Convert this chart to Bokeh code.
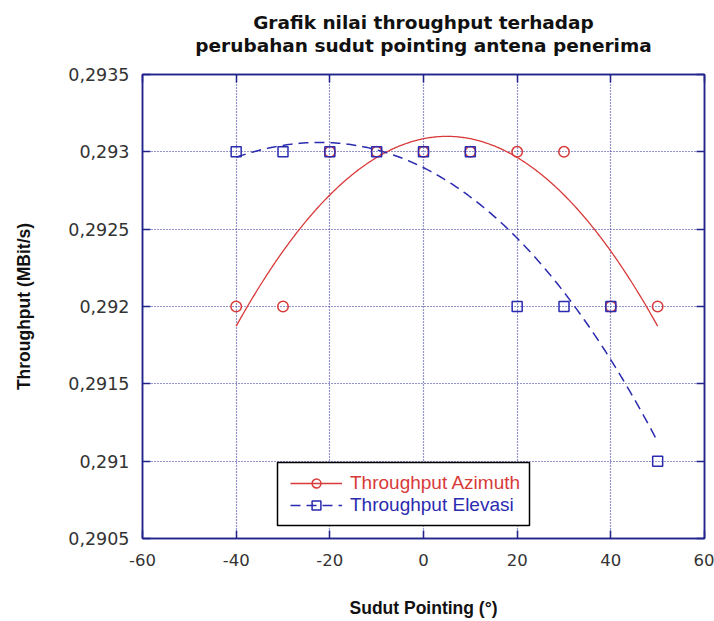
import numpy as np
from bokeh.plotting import figure
from bokeh.models import (FixedTicker, LinearAxis, Legend, LegendItem,
                          BoxAnnotation, Range1d, Title)
from bokeh.embed import file_html
from bokeh.resources import INLINE

# ---------------- data ----------------
sudut = [-40, -30, -20, -10, 0, 10, 20, 30, 40, 50]
azimuth = [0.292, 0.292, 0.293, 0.293, 0.293, 0.293, 0.293, 0.293, 0.292, 0.292]
elevasi = [0.293, 0.293, 0.293, 0.293, 0.293, 0.293, 0.292, 0.292, 0.292, 0.291]
x_ticks = [-60, -40, -20, 0, 20, 40, 60]
x_tick_labels = ["-60", "-40", "-20", "0", "20", "40", "60"]
y_ticks = [0.2905, 0.291, 0.2915, 0.292, 0.2925, 0.293, 0.2935]
y_tick_labels = ["0,2905", "0,291", "0,2915", "0,292", "0,2925", "0,293", "0,2935"]
title_lines = ["Grafik nilai throughput terhadap",
               "perubahan sudut pointing antena penerima"]
x_label = "Sudut Pointing (°)"
y_label = "Throughput (MBit/s)"
series_names = ["Throughput Azimuth", "Throughput Elevasi"]

NAVY = "#23238c"
GRID = "#2a2a9c"
RED = "#d83a3a"
BLUE = "#2b2bb0"

# least-squares trend lines (quadratic / cubic polynomial fits of the data)
xs = np.array(sudut, dtype=float)
xf = np.linspace(xs.min(), xs.max(), 300)
az_fit = np.polynomial.Polynomial.fit(xs, np.array(azimuth), 2)(xf)
el_fit = np.polynomial.Polynomial.fit(xs, np.array(elevasi), 3)(xf)

p = figure(width=714, height=621, x_range=Range1d(-60, 60),
           y_range=Range1d(0.2905, 0.2935), output_backend="svg",
           toolbar_location=None, min_border_left=142, min_border_right=10,
           min_border_top=74, min_border_bottom=83)
p.background_fill_color = "white"
p.border_fill_color = "white"
p.outline_line_color = NAVY
p.outline_line_width = 1.5

for ax in (p.xaxis[0], p.yaxis[0]):
    ax.axis_line_color = NAVY
    ax.axis_line_width = 1.5
    ax.major_tick_line_color = NAVY
    ax.major_tick_line_width = 1.5
    ax.major_tick_in = 8
    ax.major_tick_out = 0
    ax.minor_tick_line_color = None
    ax.major_label_text_color = "#333333"
    ax.major_label_text_font = "DejaVu Sans"
    ax.axis_label_text_font = "Liberation Sans"
    ax.axis_label_text_font_style = "bold"
    ax.axis_label_text_font_size = "17.5px"
    ax.axis_label_text_color = "#111111"

p.xaxis.ticker = FixedTicker(ticks=x_ticks)
p.xaxis.major_label_overrides = dict(zip(x_ticks, x_tick_labels))
p.xaxis.major_label_text_font_size = "16.5px"
p.xaxis.major_label_standoff = 15
p.xaxis.axis_label = x_label
p.xaxis.axis_label_standoff = 29

p.yaxis.ticker = FixedTicker(ticks=y_ticks)
p.yaxis.major_label_overrides = dict(zip(y_ticks, y_tick_labels))
p.yaxis.major_label_text_font_size = "17.5px"
p.yaxis.major_label_standoff = 13
p.yaxis.axis_label = y_label
p.yaxis.axis_label_standoff = 31

def tick_only_axis(ticks, tick_in, tick_out, color):
    ax = LinearAxis(ticker=FixedTicker(ticks=ticks))
    ax.major_label_overrides = {t: "" for t in ticks}
    ax.major_label_text_font_size = "1px"
    ax.major_label_standoff = 0
    ax.axis_line_color = color
    ax.axis_line_width = 1.5
    ax.major_tick_line_color = color
    ax.major_tick_line_width = 1.5
    ax.major_tick_in = tick_in
    ax.major_tick_out = tick_out
    ax.minor_tick_line_color = None
    return ax

p.add_layout(tick_only_axis(x_ticks, 8, 0, NAVY), "above")
p.add_layout(tick_only_axis(x_ticks, 0, 19, None), "above")   # invisible spacer
p.add_layout(tick_only_axis(y_ticks, 8, 0, NAVY), "right")

p.xgrid.ticker = FixedTicker(ticks=x_ticks)
p.ygrid.ticker = FixedTicker(ticks=y_ticks)
for g in (p.xgrid[0], p.ygrid[0]):
    g.grid_line_color = GRID
    g.grid_line_dash = "1 2"
    g.grid_line_width = 1.2

rl = p.line(xf, az_fit, line_color=RED, line_width=1.3)
bl = p.line(xf, el_fit, line_color=BLUE, line_width=1.5, line_dash="10 6")
rs = p.scatter(sudut, azimuth, marker="circle", size=10.5, line_color=RED,
               line_width=1.5, fill_alpha=0)
bs = p.scatter(sudut, elevasi, marker="square", size=10, line_color=BLUE,
               line_width=1.5, fill_alpha=0)

box = BoxAnnotation(left=135, right=387, top=76, bottom=13,
                    left_units="screen", right_units="screen",
                    top_units="screen", bottom_units="screen",
                    fill_color="white", fill_alpha=1.0,
                    line_color="black", line_width=1.5, line_alpha=1.0)
p.add_layout(box)

for lbl, rends, col, loc in ((series_names[0], [rl, rs], RED, (148, 43.7)),
                             (series_names[1], [bl, bs], BLUE, (148, 22))):
    lg = Legend(items=[LegendItem(label=lbl, renderers=rends)], location=loc,
                border_line_color=None, background_fill_alpha=0,
                padding=0, margin=0, spacing=0, glyph_width=52,
                glyph_height=22, label_standoff=8, label_height=22,
                label_text_font="Liberation Sans", label_text_font_size="19px",
                label_text_color=col)
    p.add_layout(lg)

# two-line title: first added sits nearest the plot
for text in (title_lines[1], title_lines[0]):
    p.add_layout(Title(text=text, align="center", text_font="DejaVu Sans",
                       text_font_style="bold", text_font_size="18.5px",
                       text_color="#111111", standoff=0), "above")

open("out.html", "w").write(file_html(p, INLINE))
